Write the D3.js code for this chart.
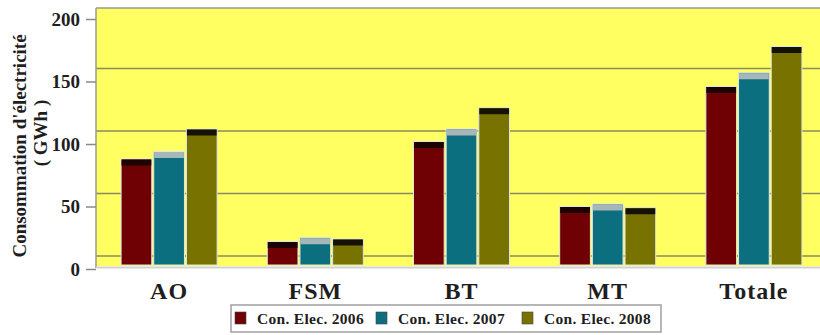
<!DOCTYPE html>
<html>
<head>
<meta charset="utf-8">
<script src="https://cdn.jsdelivr.net/npm/d3@7/dist/d3.min.js"></script>
<style>
  html, body { margin: 0; padding: 0; background: #ffffff; }
  svg { display: block; }
  text { font-family: "Liberation Serif", "DejaVu Serif", serif; font-weight: bold; }
</style>
</head>
<body>
<svg id="chart" width="820" height="335"></svg>
<script>
// Electricity consumption by sector (GWh), 2006-2008
const categories = ["AO", "FSM", "BT", "MT", "Totale"];
const seriesNames = ["Con. Elec. 2006", "Con. Elec. 2007", "Con. Elec. 2008"];
const cons2006 = [88, 22, 102, 50, 146];
const cons2007 = [94, 25, 112, 52, 157];
const cons2008 = [112, 24, 129, 49, 178];
const yTicks = [0, 50, 100, 150, 200];

const faceColors = ["#6f0004", "#0b6f7f", "#787300"];
const capColors = ["#1c0404", "#a7b6b8", "#141206"];

const seriesValues = [cons2006, cons2007, cons2008];

const svg = d3.select("#chart");

const plotLeft = 96, plotRight = 820;
const y = d3.scaleLinear().domain([0, 200]).range([269, 19]);
const x = d3.scaleBand().domain(categories).range([96, 827])
  .paddingInner(0.343).paddingOuter(0.1715);
const xs = d3.scaleBand().domain(seriesNames).range([0, x.bandwidth()]).paddingInner(0.06);

const wallShift = 13;   // back-wall gridlines sit above the front axis
const floorGap = 4;     // bars stand slightly behind the front floor edge
const capH = 6;         // depth of the bar top face

// back wall
svg.append("rect")
  .attr("x", plotLeft).attr("y", y(200) - 11)
  .attr("width", plotRight - plotLeft).attr("height", (y(0) - 3) - (y(200) - 11))
  .attr("fill", "#ffff62");

// gridlines on the back wall
svg.append("g").selectAll("line")
  .data(yTicks.filter(d => d < 200))
  .join("line")
  .attr("x1", plotLeft).attr("x2", plotRight)
  .attr("y1", d => y(d) - wallShift).attr("y2", d => y(d) - wallShift)
  .attr("stroke", "#8b8a5e").attr("stroke-width", 1.6);

// frame
svg.append("line")
  .attr("x1", plotLeft).attr("x2", plotRight)
  .attr("y1", y(200) - 11).attr("y2", y(200) - 11)
  .attr("stroke", "#9a9a90").attr("stroke-width", 1.5);
svg.append("line")
  .attr("x1", plotLeft).attr("x2", plotLeft)
  .attr("y1", y(200) - 11).attr("y2", y(0) - 1)
  .attr("stroke", "#9a9a90").attr("stroke-width", 1.5);
svg.append("line")
  .attr("x1", plotLeft).attr("x2", plotRight)
  .attr("y1", y(0) - 1.5).attr("y2", y(0) - 1.5)
  .attr("stroke", "#d2d2ca").attr("stroke-width", 2);

// bars
const groups = svg.append("g").selectAll("g")
  .data(categories)
  .join("g")
  .attr("transform", d => `translate(${x(d)},0)`);

groups.each(function(cat, ci) {
  const g = d3.select(this);
  seriesNames.forEach((s, si) => {
    const v = seriesValues[si][ci];
    const bx = xs(s);
    const base = y(0) - floorGap;
    g.append("rect")
      .attr("x", bx).attr("y", y(v))
      .attr("width", xs.bandwidth()).attr("height", base - y(v))
      .attr("fill", faceColors[si])
      .attr("stroke", "#dfe7e6").attr("stroke-width", 1);
    g.append("rect")
      .attr("x", bx + 0.5).attr("y", y(v) + 0.5)
      .attr("width", xs.bandwidth() - 1).attr("height", capH)
      .attr("fill", capColors[si]);
  });
});

// y axis
const yAxis = svg.append("g")
  .attr("transform", `translate(${plotLeft},0)`)
  .call(d3.axisLeft(y).tickValues(yTicks).tickSize(10).tickPadding(6));
yAxis.select(".domain").remove();
yAxis.selectAll(".tick line").attr("stroke", "#8a8a8a").attr("stroke-width", 1.5);
yAxis.selectAll(".tick text")
  .attr("fill", "#1e1e1e")
  .style("font-size", "19px")
  .style("font-family", "'Liberation Serif', serif")
  .style("font-weight", "bold");

// x axis labels
const xAxis = svg.append("g")
  .attr("transform", `translate(0,${y(0)})`)
  .call(d3.axisBottom(x).tickSize(0).tickPadding(13));
xAxis.select(".domain").remove();
xAxis.selectAll(".tick text")
  .attr("fill", "#1e1e1e")
  .style("font-size", "24px")
  .style("letter-spacing", "1px")
  .style("font-family", "'Liberation Serif', serif")
  .style("font-weight", "bold");

// y axis title
svg.append("text")
  .attr("transform", "translate(26,146) rotate(-90)")
  .attr("text-anchor", "middle")
  .attr("fill", "#1e1e1e")
  .style("font-size", "19px")
  .text("Consommation d'électricité");
svg.append("text")
  .attr("transform", "translate(47,133) rotate(-90)")
  .attr("text-anchor", "middle")
  .attr("fill", "#1e1e1e")
  .style("font-size", "19px")
  .text("( GWh )");

// legend
const legend = svg.append("g");
legend.append("rect")
  .attr("x", 231).attr("y", 305).attr("width", 430).attr("height", 27)
  .attr("fill", "#ffffff").attr("stroke", "#a0a0a0").attr("stroke-width", 1.5);
const legendX = [235, 376, 522];
seriesNames.forEach((s, i) => {
  legend.append("rect")
    .attr("x", legendX[i]).attr("y", 312).attr("width", 11).attr("height", 12)
    .attr("fill", faceColors[i]).attr("stroke", "#444").attr("stroke-width", 0.6);
  legend.append("text")
    .attr("x", legendX[i] + 22).attr("y", 323.5)
    .attr("fill", "#1e1e1e")
    .style("font-size", "15.5px")
    .style("letter-spacing", "0.3px")
    .text(s);
});
</script>
</body>
</html>
